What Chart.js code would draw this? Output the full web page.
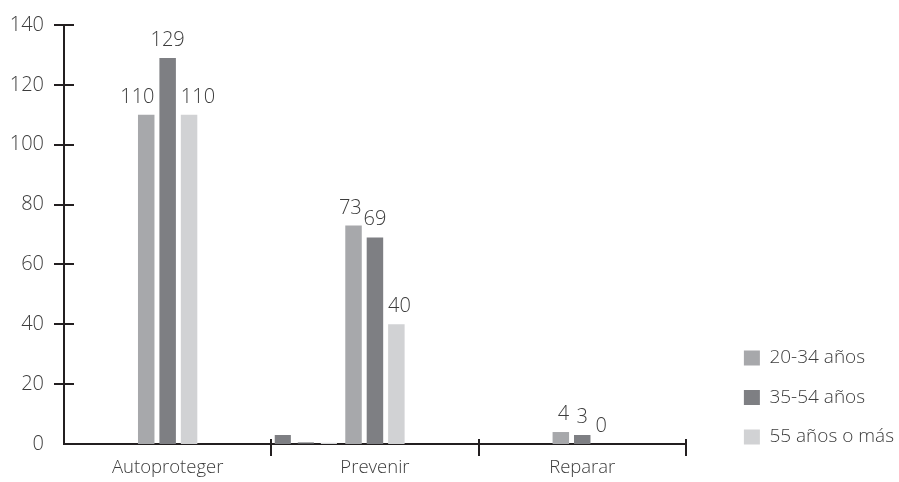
<!DOCTYPE html>
<html>
<head>
<meta charset="utf-8">
<title>Acciones por grupo de edad</title>
<script src="https://cdn.jsdelivr.net/npm/chart.js@4.4.0/dist/chart.umd.min.js"></script>
<style>
html, body { margin: 0; padding: 0; background: #fff; }
</style>
</head>
<body>
<canvas id="edadChart" width="899" height="482"></canvas>

<script>
// categorias y series
var categorias = ['Autoproteger', 'Prevenir', 'Reparar'];
var grupos = ['20-34 años', '35-54 años', '55 años o más'];
var edad20a34 = [110, 73, 4];
var edad35a54 = [129, 69, 3];
var edad55mas = [110, 40, 0];
// barras sueltas al inicio de Prevenir (sin etiqueta)
var sueltos = [3, 0.5, 0.4];
var casillasSueltas = ['Prevenir 1', 'Prevenir 2', 'Prevenir 3'];

var colores = ['#a7a8ab', '#7e7f83', '#d1d2d4'];
var coloresSueltos = ['#7e7f83', '#5a5a5d', '#d6d7d9'];
var tinta = '#3c3c3c';
var linea = '#231f20';
var letra = 'Open Sans';

// every category split in nine narrow slots, the middle one carries its name
var subcasillas = [];
categorias.forEach(function (c) {
  for (var j = 1; j <= 9; j++) subcasillas.push(j === 5 ? c : c + ' ' + j);
});

// tick marks that cross the axis lines
var marcasEjes = {
  id: 'marcasEjes',
  afterDraw: function (chart) {
    var ctx = chart.ctx, x = chart.scales.x, y = chart.scales.y;
    ctx.save();
    ctx.strokeStyle = linea;
    ctx.lineWidth = 2;
    ctx.beginPath();
    y.ticks.forEach(function (t) {
      if (t.value === 0) return;
      var py = Math.round(y.getPixelForValue(t.value));
      ctx.moveTo(x.left - 10, py);
      ctx.lineTo(x.left + 10, py);
    });
    var paso = (x.right - x.left) / categorias.length;
    for (var i = 1; i <= categorias.length; i++) {
      var px = Math.round(x.left + i * paso);
      ctx.moveTo(px, x.top - 5);
      ctx.lineTo(px, x.top + 12);
    }
    ctx.stroke();
    ctx.restore();
  }
};

// value labels over the bars
var etiquetas = {
  id: 'etiquetas',
  afterDatasetsDraw: function (chart) {
    var ctx = chart.ctx;
    var alineado = ['right', 'center', 'left'];
    ctx.save();
    ctx.font = '300 20px "' + letra + '"';
    ctx.fillStyle = tinta;
    ctx.textBaseline = 'alphabetic';
    for (var d = 0; d < grupos.length; d++) {
      var meta = chart.getDatasetMeta(d);
      meta.data.forEach(function (bar, i) {
        var tx = bar.x;
        if (d === 0) tx = bar.x + bar.width / 2;
        if (d === 2) tx = bar.x - bar.width / 2;
        ctx.textAlign = alineado[d];
        ctx.fillText(String(series[d][i]), tx, bar.y - 12);
      });
    }
    ctx.restore();
  }
};

// keep the legend a bit above the bottom edge
var subirLeyenda = {
  id: 'subirLeyenda',
  afterLayout: function (chart) {
    chart.legend.bottom -= 15;
  }
};

var series = [edad20a34, edad35a54, edad55mas];
var datasets = series.map(function (vals, k) {
  return {
    label: grupos[k],
    data: vals.map(function (v, i) { return { x: categorias[i], y: v }; }),
    backgroundColor: colores[k],
    categoryPercentage: 2.79,
    barPercentage: 0.77
  };
});
datasets.push({
  label: 'sueltos',
  data: sueltos.map(function (v, k) { return { x: casillasSueltas[k], y: v }; }),
  backgroundColor: coloresSueltos,
  grouped: false,
  categoryPercentage: 1,
  barPercentage: 0.7
});

new Chart(document.getElementById('edadChart'), {
  type: 'bar',
  data: { labels: subcasillas, datasets: datasets },
  options: {
    responsive: false,
    animation: false,
    layout: { padding: { top: 25, bottom: 0, left: 0, right: -5 } },
    plugins: {
      tooltip: { enabled: false },
      legend: {
        position: 'right',
        align: 'end',
        maxWidth: 260,
        labels: {
          boxWidth: 16,
          boxHeight: 15,
          padding: 20.5,
          color: tinta,
          font: { family: letra, size: 19, weight: 300 },
          filter: function (item) { return item.datasetIndex < grupos.length; }
        }
      }
    },
    scales: {
      x: {
        type: 'category',
        labels: subcasillas,
        grid: { display: false, drawTicks: false },
        border: { display: true, color: linea, width: 2 },
        ticks: {
          color: tinta,
          padding: 13,
          autoSkip: false,
          maxRotation: 0,
          font: { family: letra, size: 18.5, weight: 300 },
          callback: function (value) {
            var s = subcasillas[value];
            return categorias.indexOf(s) >= 0 ? s : '';
          }
        },
        afterFit: function (s) { s.height = 38; }
      },
      y: {
        min: 0,
        max: 140,
        grid: { display: false, drawTicks: true, tickLength: 11 },
        border: { display: true, color: linea, width: 2 },
        ticks: { stepSize: 20, color: tinta, padding: 9, font: { family: letra, size: 20, weight: 300 } },
        afterFit: function (s) { s.width = 64; }
      },
      hueco: {
        type: 'linear',
        position: 'right',
        grid: { display: false },
        border: { display: false },
        ticks: { display: false },
        afterFit: function (s) { s.width = 37.5; }
      }
    }
  },
  plugins: [marcasEjes, etiquetas, subirLeyenda]
});
</script>
</body>
</html>
